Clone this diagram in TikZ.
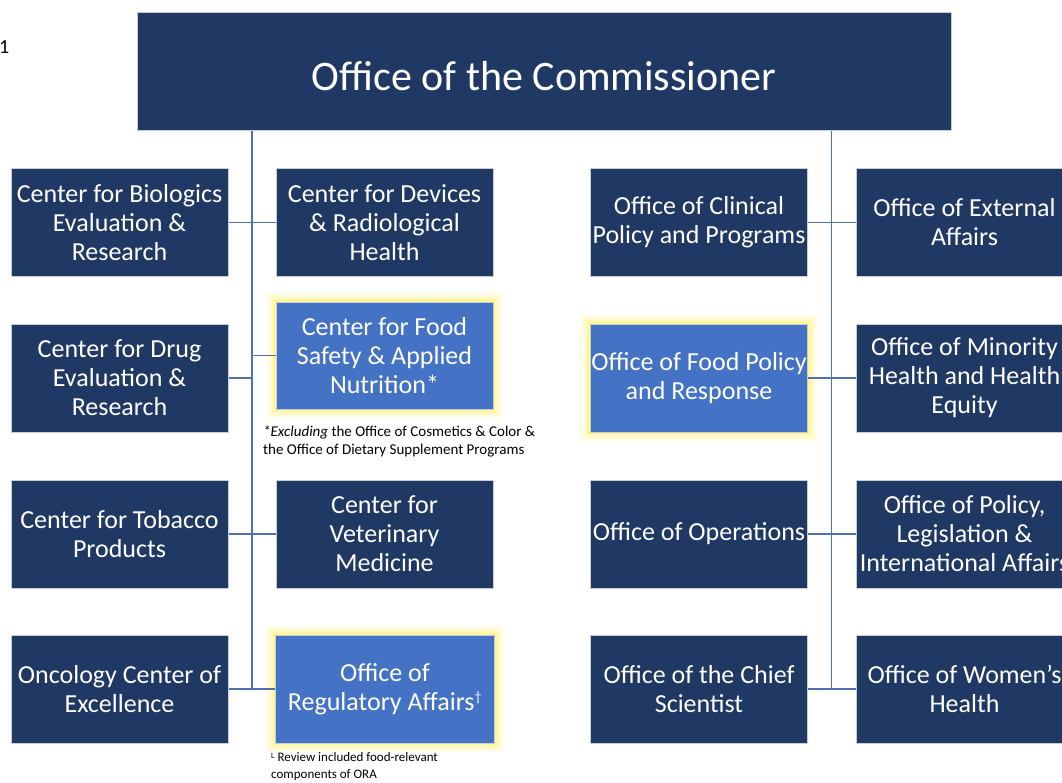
\documentclass[tikz,border=0pt]{standalone}
\usepackage{fontspec}
\setmainfont{Carlito}
\usetikzlibrary{backgrounds}
\definecolor{navy}{RGB}{32,56,100}
\definecolor{lblue}{RGB}{68,114,196}
\definecolor{linec}{RGB}{79,113,175}
\definecolor{glowc}{RGB}{255,242,110}
\begin{document}
\begin{tikzpicture}[x=1pt,y=-1pt,
  box/.style={rectangle, fill=navy, draw=white!75!navy, line width=0.6pt,
    minimum width=217pt, minimum height=108pt, inner sep=0pt,
    text=white, align=center, font=\fontsize{26}{29}\selectfont},
  hbox/.style={box, fill=lblue},
  conn/.style={draw=linec, line width=1.3pt},
  fnote/.style={anchor=north west, inner sep=0pt, align=left, text=black,
    font=\fontsize{15}{18}\selectfont}]
\useasboundingbox (0,0) rectangle (1062,782);
\clip (0,0) rectangle (1062,782);

% top
\node[box, minimum width=814pt, minimum height=118pt, text height=38pt, text depth=0pt,
  font=\fontsize{42}{48}\selectfont] (comm) at (544,71) {Office of the Commissioner};
\node[anchor=base west, inner sep=0pt, font=\fontsize{20}{24}\selectfont] (fig) at (-1,53) {1};

% column 1
\node[box] (cber) at (119.5,222.5) {Center for Biologics\\Evaluation \&\\Research};
\node[box] (cder) at (119.5,378) {Center for Drug\\Evaluation \&\\Research};
\node[box] (ctp)  at (119.5,534) {Center for Tobacco\\Products};
\node[box] (oce)  at (119.5,689) {Oncology Center of\\Excellence};

% column 2
\node[box] (cdrh)  at (384.5,222.5) {Center for Devices\\\& Radiological\\Health};
\node[hbox, minimum height=107pt] (cfsan) at (384.5,355.5) {Center for Food\\Safety \& Applied\\Nutrition*};
\node[box] (cvm)   at (384.5,534) {Center for\\Veterinary\\Medicine};
\node[hbox, minimum width=219pt] (ora) at (385,689) {Office of\\Regulatory Affairs\textsuperscript{\fontsize{14}{14}\selectfont†}};

% column 3
\node[box] (occp) at (699,222.5) {Office of Clinical\\Policy and Programs};
\node[hbox] (ofpr) at (699,378) {Office of Food Policy\\and Response};
\node[box] (oo)   at (699,534) {Office of Operations};
\node[box] (ocs)  at (699,689) {Office of the Chief\\Scientist};

% column 4
\node[box] (oea)  at (964.5,222.5) {Office of External\\Affairs};
\node[box] (omh)  at (964.5,378) {Office of Minority\\Health and Health\\Equity};
\node[box] (opla) at (964.5,534) {Office of Policy,\\Legislation \&\\International Affairs};
\node[box] (owh)  at (964.5,689) {Office of Women's\\Health};

% footnotes
\node[fnote] (fn1) at (263,426) {\textit{*Excluding} the Office of Cosmetics \& Color \&\\the Office of Dietary Supplement Programs};
\node[fnote, font=\fontsize{13}{17}\selectfont] (fn2) at (271,752) {\raisebox{3pt}{\fontsize{8}{8}\selectfont L} Review included food-relevant\\components of ORA};

% spines
\coordinate (lspine) at (252,689);
\coordinate (rspine) at (831.5,689);
\begin{scope}[on background layer]
  \foreach \n in {cfsan,ora,ofpr}{
    \foreach \w/\o in {20/0.08,16/0.12,12/0.18,8/0.28,4/0.45}{
      \draw[glowc, line width=\w pt, opacity=\o] (\n.south west) rectangle (\n.north east);
    }
  }
  \draw[conn] (comm.south -| lspine) -- (lspine);
  \draw[conn] (comm.south -| rspine) -- (rspine);
  \draw[conn] (cber.east) -- (cdrh.west);
  \draw[conn] (cder.east) -- (cder.east -| lspine);
  \draw[conn] (cfsan.west -| lspine) -- (cfsan.west);
  \draw[conn] (ctp.east) -- (cvm.west);
  \draw[conn] (oce.east) -- (ora.west);
  \draw[conn] (occp.east) -- (oea.west);
  \draw[conn] (ofpr.east) -- (omh.west);
  \draw[conn] (oo.east) -- (opla.west);
  \draw[conn] (ocs.east) -- (owh.west);
\end{scope}
\end{tikzpicture}
\end{document}
